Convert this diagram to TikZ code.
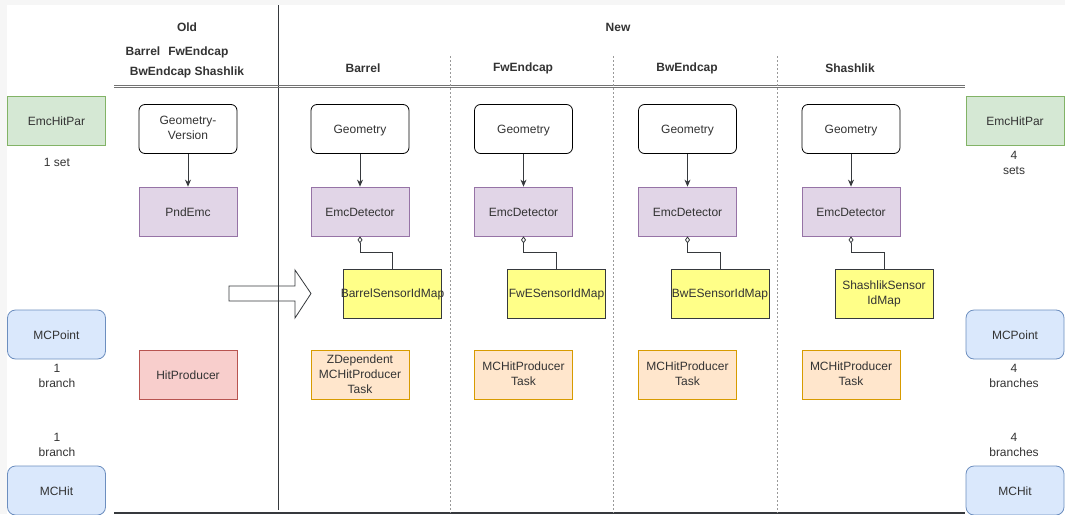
\documentclass[tikz,border=0pt]{standalone}
\usepackage{fontspec}
\setmainfont{Liberation Sans}
\usetikzlibrary{arrows.meta}
\definecolor{txt}{HTML}{333333}
\definecolor{edge}{HTML}{36393D}
\definecolor{greenfill}{HTML}{D5E8D4}\definecolor{greenline}{HTML}{82B366}
\definecolor{bluefill}{HTML}{DAE8FC}\definecolor{blueline}{HTML}{6C8EBF}
\definecolor{purplefill}{HTML}{E1D5E7}\definecolor{purpleline}{HTML}{9673A6}
\definecolor{redfill}{HTML}{F8CECC}\definecolor{redline}{HTML}{B85450}
\definecolor{orangefill}{HTML}{FFE6CC}\definecolor{orangeline}{HTML}{D79B00}
\definecolor{yellowfill}{HTML}{FFFF88}
\definecolor{pagegray}{HTML}{F6F6F6}
% invisible rules that balance the label around the cap height
\newcommand\labeltop{\rule{0pt}{11pt}}
\newcommand\labelbottom{\rule[-2pt]{0pt}{2pt}}
\tikzset{
  box/.style={minimum width=98pt, minimum height=49pt, inner sep=1pt, align=center,
    text=txt, font=\fontsize{12}{15}\selectfont, line width=0.8pt,
    execute at begin node=\labeltop, execute at end node=\labelbottom},
  geom/.style={box, draw=black, fill=white, rounded corners=6pt},
  param/.style={box, draw=greenline, fill=greenfill},
  data/.style={box, draw=blueline, fill=bluefill, rounded corners=8pt},
  detector/.style={box, draw=purpleline, fill=purplefill},
  oldtask/.style={box, draw=redline, fill=redfill},
  task/.style={box, draw=orangeline, fill=orangefill},
  idmap/.style={box, draw=edge, fill=yellowfill},
  note/.style={text=txt, align=center, font=\fontsize{12}{15}\selectfont, inner sep=0pt},
  head/.style={text=txt, align=center, font=\bfseries\fontsize{12}{20}\selectfont, inner sep=0pt},
  flow/.style={-{Stealth[length=7pt,width=6pt]}, draw=edge, line width=0.8pt},
  owns/.style={{Diamond[open,length=7pt,width=5pt]}-, draw=edge, line width=0.8pt},
  sep/.style={draw=gray!80, line width=0.7pt, dash pattern=on 2pt off 2pt},
}
\begin{document}
\begin{tikzpicture}[x=1pt,y=-1pt]
\useasboundingbox (0,0) rectangle (1065,514);
\clip (0,0) rectangle (1065,514);
\fill[pagegray] (0,0) rectangle (1065,514);
\fill[white] (7,5) rectangle (1065,514);

% hollow arrow from the old layout to the new one
\draw[fill=white, draw=edge, line width=0.8pt]
  (229,286) -- (295,286) -- (295,270) -- (311,293.5) -- (295,318) -- (295,301) -- (229,301) -- cycle;

% frame lines
\coordinate (vtop) at (278,5);
\coordinate (vbot) at (278,510);
\draw[edge, line width=0.9pt] (vtop) -- (vbot);
\coordinate (hl) at (114,87.5);
\coordinate (hr) at (965,87.5);
\draw[gray!90!black, line width=0.8pt] (hl) -- (hr);
\draw[gray!90!black, line width=0.8pt] ([yshift=2.5pt]hl) -- ([yshift=2.5pt]hr);
\coordinate (bl) at (114,513);
\coordinate (br) at (965,513);
\draw[edge, line width=1.2pt] (bl) -- (br);
\foreach \x/\n in {450/a,613/b,777/c}{
  \coordinate (s\n t) at (\x,56);
  \coordinate (s\n b) at (\x,513);
  \draw[sep] (s\n t) -- (s\n b);
}

% headings
\node[head] (old) at (187,27) {Old};
\node[head] (oldA) at (177,52) {Barrel\hspace{8pt}FwEndcap};
\node[head] (oldB) at (187,72) {BwEndcap Shashlik};
\node[head] (new) at (618,27) {New};
\node[head] (hA) at (363,68) {Barrel};
\node[head] (hB) at (523,68) {FwEndcap};
\node[head] (hC) at (687,68) {BwEndcap};
\node[head] (hD) at (850,68) {Shashlik};

% left data column
\node[param] (parL) at (56.5,120.5) {EmcHitPar};
\node[note] (parLn) at (57,162) {1 set};
\node[data] (ptL) at (56.5,334.5) {MCPoint};
\node[note] (ptLn) at (57,375.5) {1\\branch};
\node[note] (hitLn) at (57,445) {1\\branch};
\node[data] (hitL) at (56.5,490.5) {MCHit};

% old layout
\node[geom] (gOld) at (188,129) {Geometry-\\Version};
\node[detector] (dOld) at (188,211.5) {PndEmc};
\node[oldtask] (tOld) at (188,375) {HitProducer};
\draw[flow] (gOld) -- (dOld);

% new layout, one column per sub-detector (long map names may run past the box)
\foreach \n/\x/\mx/\maptext/\tasktext in {
  A/360/392.5/{\makebox[0pt]{BarrelSensorIdMap}}/{ZDependent\\MCHitProducer\\Task},
  B/523.5/556.5/{\makebox[0pt]{FwESensorIdMap}}/{MCHitProducer\\Task},
  C/687.5/720/{\makebox[0pt]{BwESensorIdMap}}/{MCHitProducer\\Task},
  D/851/884/{ShashlikSensor\\IdMap}/{MCHitProducer\\Task}}{
  \node[geom] (g\n) at (\x,129) {Geometry};
  \node[detector] (d\n) at (\x,211.5) {EmcDetector};
  \node[idmap] (m\n) at (\mx,293.5) {\maptext};
  \node[task] (t\n) at (\x,375) {\tasktext};
  \draw[flow] (g\n) -- (d\n);
  \draw[owns] (d\n.south) -- ++(0,16) -| (m\n.north);
}

% right data column
\node[param] (parR) at (1015,120.5) {EmcHitPar};
\node[note] (parRn) at (1014,162.5) {4\\sets};
\node[data] (ptR) at (1015,334.5) {MCPoint};
\node[note] (ptRn) at (1014,375.5) {4\\branches};
\node[note] (hitRn) at (1014,445) {4\\branches};
\node[data] (hitR) at (1015,490.5) {MCHit};
\end{tikzpicture}
\end{document}
